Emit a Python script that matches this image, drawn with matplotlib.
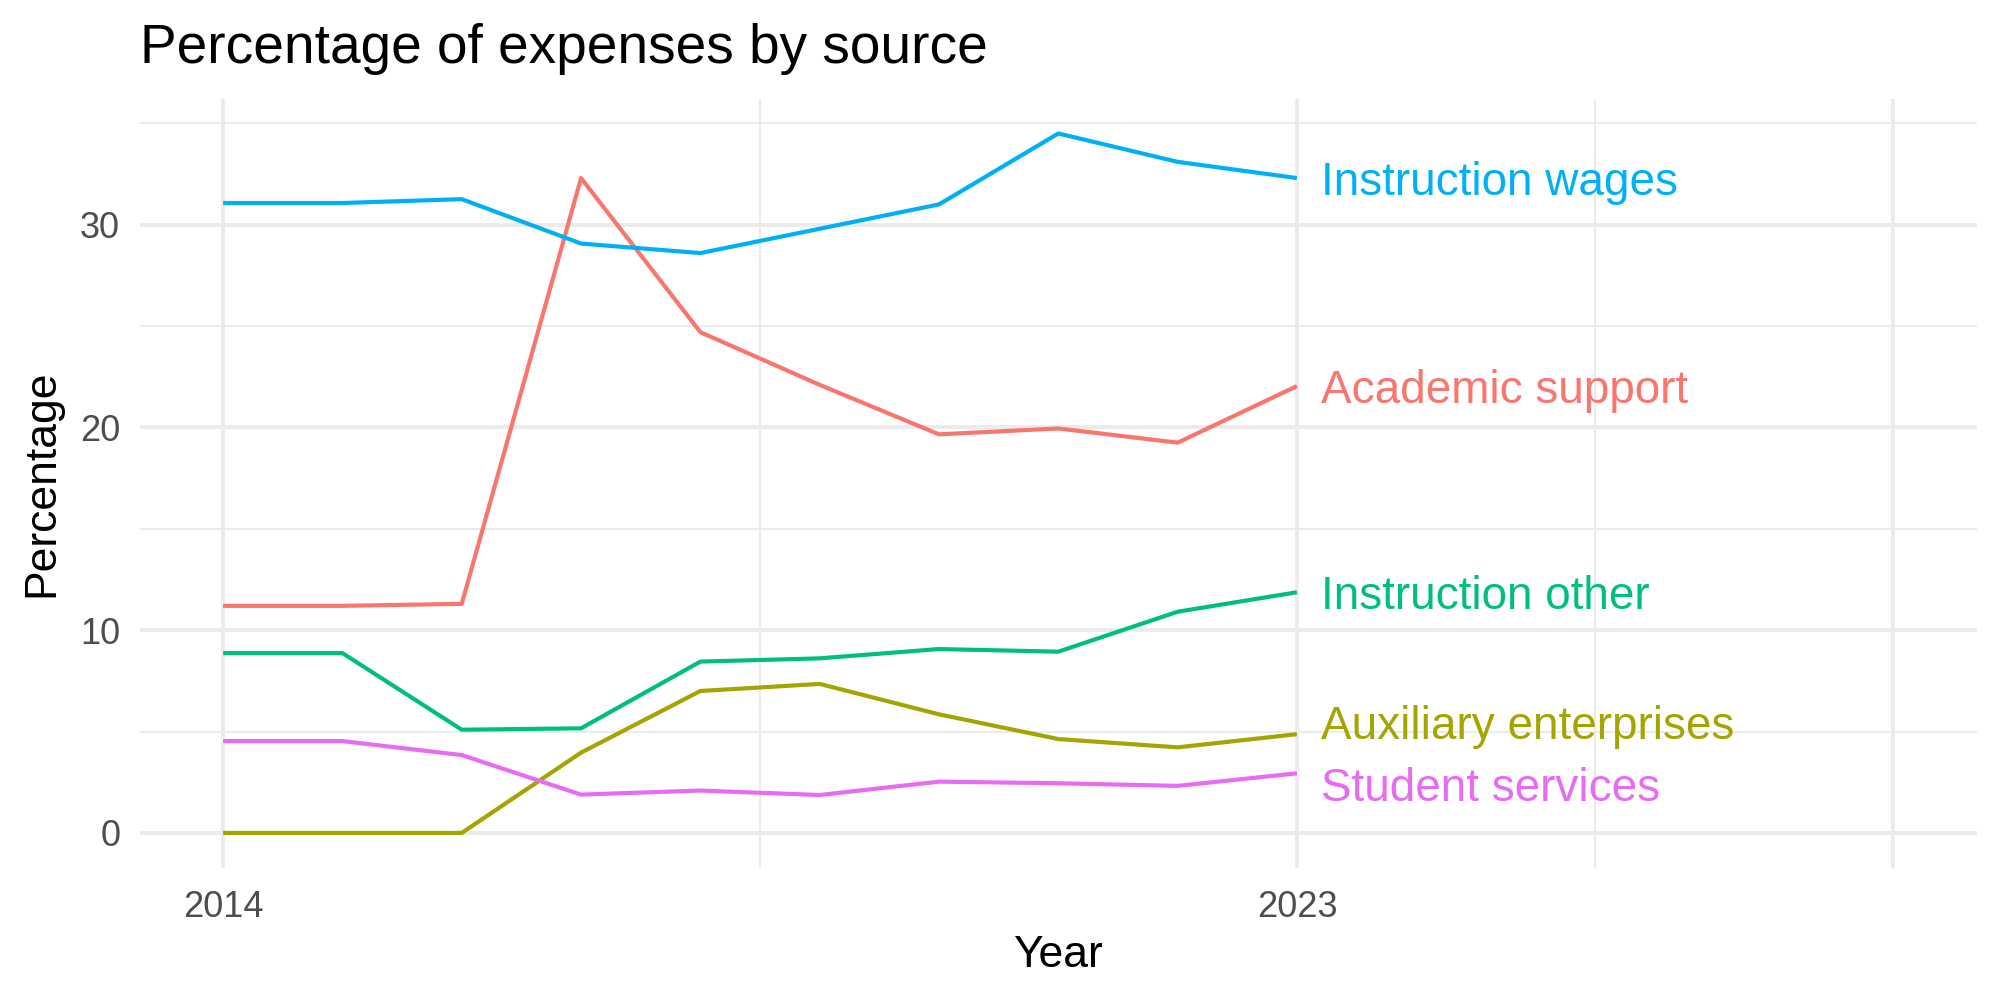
import matplotlib
matplotlib.use("Agg")
import matplotlib.pyplot as plt

plt.rcParams['font.family'] = ['Liberation Sans', 'DejaVu Sans']

# data
years = [2014, 2015, 2016, 2017, 2018, 2019, 2020, 2021, 2022, 2023]
instruction_wages = [31.07, 31.07, 31.26, 29.07, 28.6, 29.8, 31.0, 34.5, 33.1, 32.3]
academic_support = [11.2, 11.2, 11.3, 32.3, 24.7, 22.1, 19.66, 19.95, 19.25, 22.04]
instruction_other = [8.87, 8.87, 5.09, 5.16, 8.45, 8.61, 9.07, 8.94, 10.91, 11.87]
auxiliary = [0.0, 0.0, 0.0, 3.96, 7.0, 7.35, 5.85, 4.63, 4.22, 4.87]
student_services = [4.53, 4.53, 3.84, 1.89, 2.09, 1.87, 2.53, 2.45, 2.32, 2.94]

series_names = ["Academic support", "Auxiliary enterprises", "Instruction other",
                "Instruction wages", "Student services"]
series_values = [academic_support, auxiliary, instruction_other,
                 instruction_wages, student_services]
series_colors = ["#F8766D", "#A3A500", "#00BF7D", "#00B0F6", "#E76BF3"]
# labels are repelled a little where they would overlap
label_y = [22.04, 5.47, 11.87, 32.3, 2.41]

x_breaks = [2014, 2023, 2028]
x_labels = ["2014", "2023", ""]
x_minor = [2018.5, 2025.5]
y_breaks = [0, 10, 20, 30]
y_minor = [5, 15, 25, 35]

fig = plt.figure(figsize=(10, 5), dpi=200)
ax = fig.add_axes([0.0698, 0.132, 0.9187, 0.769])

for name, vals, col, ly in zip(series_names, series_values, series_colors, label_y):
    ax.plot(years, vals, color=col, lw=1.5, solid_capstyle='butt', zorder=3)
    ax.text(years[-1] + 0.2, ly, name, color=col, fontsize=16.5,
            ha='left', va='center_baseline', zorder=4)

ax.set_xlim(2013.3, 2028.7)
ax.set_ylim(-1.73, 36.2)

ax.set_xticks(x_breaks)
ax.set_xticklabels(x_labels)
ax.set_xticks(x_minor, minor=True)
ax.set_yticks(y_breaks)
ax.set_yticks(y_minor, minor=True)

ax.grid(which='major', color='#EBEBEB', lw=1.4)
ax.grid(which='minor', color='#EBEBEB', lw=0.7)
ax.set_axisbelow(True)
for s in ax.spines.values():
    s.set_visible(False)
ax.tick_params(which='both', length=0)
ax.tick_params(axis='x', labelsize=13, labelcolor='#4D4D4D', pad=8)
ax.tick_params(axis='y', labelsize=13, labelcolor='#4D4D4D', pad=7)

fig.text(0.07, 0.937, "Percentage of expenses by source", fontsize=19.8,
         ha='left', va='baseline')
fig.text(0.529, 0.033, "Year", fontsize=16, ha='center', va='baseline')
fig.text(0.021, 0.5165, "Percentage", fontsize=16, rotation=90,
         ha='center', va='center')

fig.savefig("out.png", dpi=200)
